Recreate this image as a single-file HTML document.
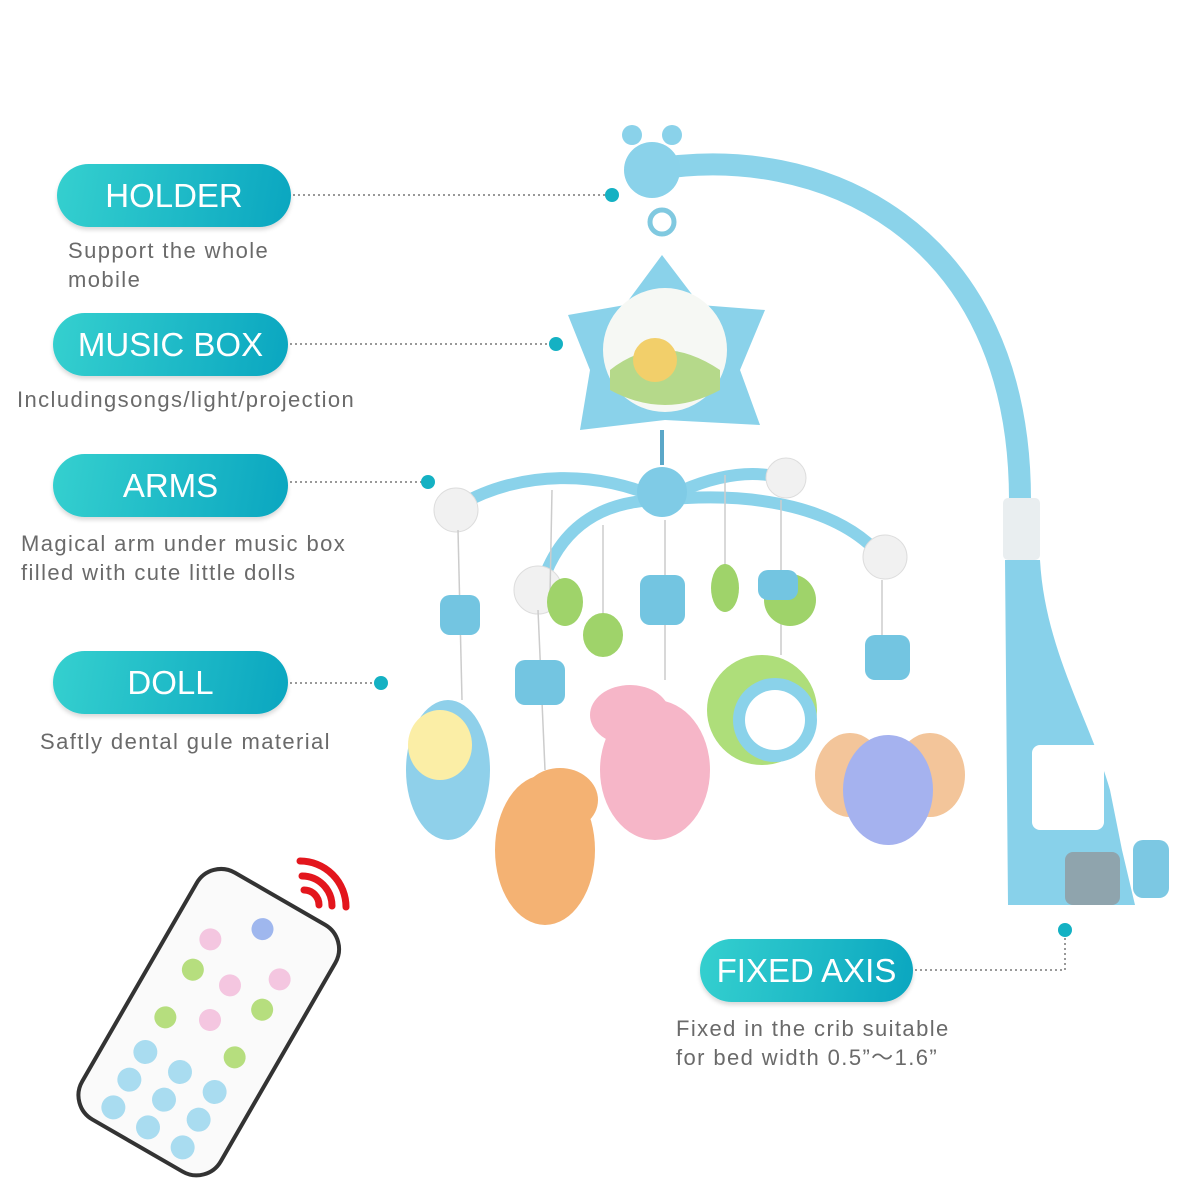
<!DOCTYPE html>
<html><head><meta charset="utf-8"><style>
html,body{margin:0;padding:0;background:#fff;width:1200px;height:1200px;overflow:hidden;position:relative;font-family:"Liberation Sans",sans-serif}
.pill{position:absolute;height:63px;border-radius:32px;background:linear-gradient(100deg,#35d0cf,#0aa6c0);color:#fff;font-size:33px;display:flex;align-items:center;justify-content:center;box-shadow:0 3px 4px rgba(0,0,0,.15)}
.sub{position:absolute;color:#6a6a6a;font-size:22px;line-height:29px;letter-spacing:1.4px}
svg{position:absolute;left:0;top:0}
</style></head><body>
<svg width="1200" height="1200" viewBox="0 0 1200 1200">
<g stroke="#999" stroke-width="2" stroke-dasharray="2 3" fill="none">
<line x1="293" y1="195" x2="608" y2="195"/>
<line x1="290" y1="344" x2="552" y2="344"/>
<line x1="290" y1="482" x2="424" y2="482"/>
<line x1="290" y1="683" x2="377" y2="683"/>
<polyline points="915,970 1065,970 1065,935"/>
</g>
<g fill="#14b1c3">
<circle cx="612" cy="195" r="7"/><circle cx="556" cy="344" r="7"/><circle cx="428" cy="482" r="7"/><circle cx="381" cy="683" r="7"/><circle cx="1065" cy="930" r="7"/>
</g>
<!-- holder arm -->
<path d="M650,170 C820,140 1020,230 1020,500" stroke="#8bd3ea" stroke-width="22" fill="none" stroke-linecap="round"/>
<path d="M1005,560 L1040,560 C1045,650 1090,720 1110,790 L1122,850 L1135,905 L1008,905 Z" fill="#88d1ea"/>
<rect x="1003" y="498" width="37" height="62" rx="5" fill="#e9eef0"/>
<rect x="1032" y="745" width="72" height="85" rx="8" fill="#fff"/>
<rect x="1065" y="852" width="55" height="53" rx="8" fill="#8fa4ad"/>
<rect x="1133" y="840" width="36" height="58" rx="10" fill="#7cc8e3"/>
<!-- giraffe head top -->
<circle cx="652" cy="170" r="28" fill="#8ad2ea"/>
<circle cx="632" cy="135" r="10" fill="#8ad2ea"/><circle cx="672" cy="135" r="10" fill="#8ad2ea"/>
<circle cx="662" cy="222" r="12" fill="none" stroke="#80c9e0" stroke-width="5"/>
<!-- music box star -->
<path d="M662,255 L700,305 L765,310 L740,370 L760,425 L665,420 L580,430 L590,370 L568,315 L625,305 Z" fill="#8ad2ea"/>
<circle cx="665" cy="350" r="62" fill="#f6f8f4"/>
<path d="M610,370 Q660,330 720,370 L720,390 Q665,420 610,390 Z" fill="#b5d98a"/>
<ellipse cx="655" cy="360" rx="22" ry="22" fill="#f2cf6a"/>
<line x1="662" y1="430" x2="662" y2="465" stroke="#5ba7c8" stroke-width="4"/>
<!-- arms -->
<g stroke="#8ad2ea" stroke-width="12" fill="none" stroke-linecap="round">
<path d="M662,500 C600,470 520,470 460,505"/>
<path d="M662,500 C720,470 760,470 790,480"/>
<path d="M662,500 C610,500 560,520 540,590"/>
<path d="M662,500 C760,490 840,510 880,555"/>
</g>
<circle cx="662" cy="492" r="25" fill="#7fcbe6"/>
<g fill="#f1f1f1" stroke="#ddd"><circle cx="456" cy="510" r="22"/><circle cx="538" cy="590" r="24"/><circle cx="786" cy="478" r="20"/><circle cx="885" cy="557" r="22"/></g>
<g stroke="#ccc" stroke-width="1.5"><line x1="458" y1="530" x2="462" y2="700"/><line x1="538" y1="610" x2="545" y2="770"/><line x1="665" y1="520" x2="665" y2="680"/><line x1="781" y1="500" x2="781" y2="655"/><line x1="882" y1="580" x2="882" y2="680"/><line x1="552" y1="490" x2="550" y2="595"/><line x1="603" y1="525" x2="603" y2="620"/><line x1="725" y1="475" x2="725" y2="565"/></g>
<g fill="#9fd36a"><ellipse cx="565" cy="602" rx="18" ry="24"/><ellipse cx="603" cy="635" rx="20" ry="22"/><ellipse cx="725" cy="588" rx="14" ry="24"/><ellipse cx="790" cy="600" rx="26" ry="26"/></g>
<g fill="#73c5e1"><rect x="440" y="595" width="40" height="40" rx="10"/><rect x="515" y="660" width="50" height="45" rx="10"/><rect x="640" y="575" width="45" height="50" rx="10"/><rect x="758" y="570" width="40" height="30" rx="10"/><rect x="865" y="635" width="45" height="45" rx="10"/></g>
<!-- dolls -->
<ellipse cx="448" cy="770" rx="42" ry="70" fill="#8fd0ea"/><ellipse cx="440" cy="745" rx="32" ry="35" fill="#fbeea6"/>
<ellipse cx="545" cy="850" rx="50" ry="75" fill="#f4b273"/><ellipse cx="560" cy="800" rx="38" ry="32" fill="#f4b273"/>
<ellipse cx="655" cy="770" rx="55" ry="70" fill="#f6b6c8"/><ellipse cx="630" cy="715" rx="40" ry="30" fill="#f6b6c8"/>
<circle cx="762" cy="710" r="55" fill="#aede7a"/><circle cx="775" cy="720" r="42" fill="#8ad2ea"/><circle cx="775" cy="720" r="30" fill="#fff"/>
<ellipse cx="850" cy="775" rx="35" ry="42" fill="#f3c59a"/><ellipse cx="930" cy="775" rx="35" ry="42" fill="#f3c59a"/><ellipse cx="888" cy="790" rx="45" ry="55" fill="#a5b2ef"/>
<!-- remote -->
<g transform="rotate(30 210 1020)">
<rect x="130" y="880" width="160" height="285" rx="28" fill="#fafafa" stroke="#333" stroke-width="4"/>
<g fill="#a9dcf0">
<circle cx="170" cy="1080" r="12"/><circle cx="210" cy="1080" r="12"/><circle cx="250" cy="1080" r="12"/>
<circle cx="170" cy="1112" r="12"/><circle cx="210" cy="1112" r="12"/><circle cx="250" cy="1112" r="12"/>
<circle cx="170" cy="1144" r="12"/><circle cx="210" cy="1144" r="12"/><circle cx="250" cy="1144" r="12"/>
</g>
<g fill="#f4c6e0"><circle cx="170" cy="950" r="11"/><circle cx="250" cy="950" r="11"/><circle cx="210" cy="980" r="11"/><circle cx="210" cy="1020" r="11"/></g>
<g fill="#b6de7e"><circle cx="170" cy="985" r="11"/><circle cx="250" cy="985" r="11"/><circle cx="170" cy="1040" r="11"/><circle cx="250" cy="1040" r="11"/></g>
<circle cx="210" cy="915" r="11" fill="#9fb7ee"/>
</g>
<g stroke="#e3161d" stroke-width="7" fill="none" stroke-linecap="round">
<path d="M304,890 A15,15 0 0 1 319,905"/>
<path d="M302,876 A30,30 0 0 1 332,906"/>
<path d="M300,861 A46,46 0 0 1 346,907"/>
</g>
</svg>
<div class="pill" style="left:57px;top:164px;width:234px">HOLDER</div>
<div class="sub" style="left:68px;top:236px">Support the whole<br>mobile</div>
<div class="pill" style="left:53px;top:313px;width:235px">MUSIC BOX</div>
<div class="sub" style="left:17px;top:385px;letter-spacing:1.4px">Includingsongs/light/projection</div>
<div class="pill" style="left:53px;top:454px;width:235px">ARMS</div>
<div class="sub" style="left:21px;top:529px">Magical arm under music box<br>filled with cute little dolls</div>
<div class="pill" style="left:53px;top:651px;width:235px">DOLL</div>
<div class="sub" style="left:40px;top:727px">Saftly dental gule material</div>
<div class="pill" style="left:700px;top:939px;width:213px">FIXED AXIS</div>
<div class="sub" style="left:676px;top:1014px">Fixed in the crib suitable<br>for bed width 0.5”～1.6”</div>
</body></html>
